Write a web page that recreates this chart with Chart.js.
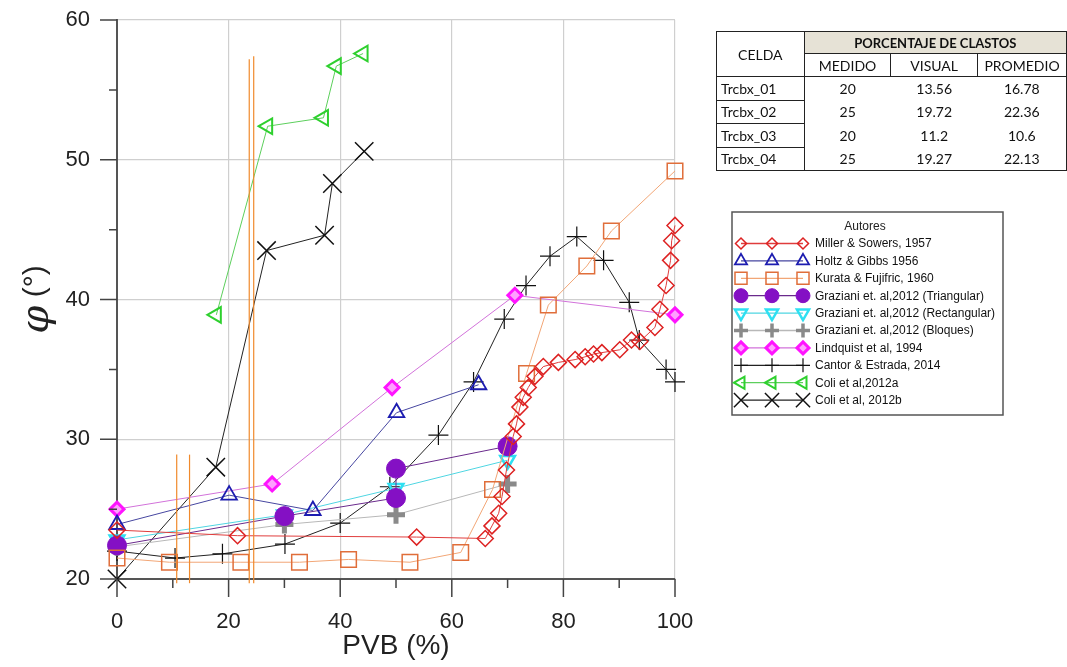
<!DOCTYPE html>
<html>
<head>
<meta charset="utf-8">
<script src="https://cdn.jsdelivr.net/npm/chart.js@4.4.1/dist/chart.umd.min.js"></script>
<style>
body { margin: 0; width: 1067px; height: 667px; overflow: hidden; background: #fff; position: relative; }
#graf { position: absolute; left: 0; top: 0; }
#tabla { position: absolute; left: 716px; top: 31px; border-collapse: collapse; table-layout: fixed;
  font-family: Lato, 'Open Sans', sans-serif; font-size: 14px; color: #111; border: 1px solid #222; }
#tabla td { padding: 0; text-align: center; white-space: nowrap; overflow: hidden; }
#tabla .celda { border: 1px solid #222; }
#tabla .hdr { background: #e6e2d6; font-weight: bold; font-size: 13px; border-bottom: 1px solid #222; }
#tabla .sub { border: 1px solid #222; }
#tabla .nom { border: 1px solid #222; text-align: left; padding-left: 4px; }
</style>
</head>
<body>
<canvas id="graf" width="1067" height="667"></canvas>
<table id="tabla">
  <colgroup><col style="width:90px"><col style="width:89px"><col style="width:90px"><col style="width:90px"></colgroup>
  <tr style="height:22px"><td rowspan="2" class="celda">CELDA</td><td colspan="3" class="hdr">PORCENTAJE DE CLASTOS</td></tr>
  <tr style="height:23px"><td class="sub">MEDIDO</td><td class="sub">VISUAL</td><td class="sub">PROMEDIO</td></tr>
</table>
<script>
// tabla de clastos
let celdas = ['Trcbx_01', 'Trcbx_02', 'Trcbx_03', 'Trcbx_04']
let medido = ['20', '25', '20', '25']
let visual = ['13.56', '19.72', '11.2', '19.27']
let promedio = ['16.78', '22.36', '10.6', '22.13']

// ejes
let xTickLabels = [0, 20, 40, 60, 80, 100]
let xMinorTicks = [10, 30, 50, 70, 90]
let yTickLabels = [20, 30, 40, 50, 60]
let yMinorTicks = [25, 35, 45, 55]

// series (PVB %, phi grados)
let millerX = [0, 21.6, 53.7, 66.0, 67.2, 68.4, 69.0, 69.8, 71.0, 71.6, 72.2, 72.8, 73.7, 74.9, 76.4, 79.1, 82.1, 83.9, 85.4, 86.9, 90.1, 92.2, 93.7, 96.4, 97.3, 98.4, 99.2, 99.4, 100]
let millerY = [23.5, 23.1, 23.0, 22.9, 23.8, 24.7, 25.9, 27.8, 30.2, 31.1, 32.3, 33.0, 33.7, 34.5, 35.2, 35.5, 35.7, 35.9, 36.1, 36.2, 36.4, 37.1, 37.0, 38.0, 39.3, 41.0, 42.8, 44.2, 45.3]
let holtzX = [0, 20.1, 35.1, 50.1, 64.8]
let holtzY = [23.9, 26.0, 24.9, 31.9, 33.9]
let kurataX = [0, 9.4, 22.2, 32.7, 41.5, 52.5, 61.6, 67.3, 73.4, 77.3, 84.2, 88.6, 100]
let kurataY = [21.5, 21.2, 21.2, 21.2, 21.4, 21.2, 21.9, 26.4, 34.7, 39.6, 42.4, 44.9, 49.2]
let triX = [0, 30, 50, 50, 70]
let triY = [22.4, 24.5, 25.8, 27.9, 29.5]
let rectX = [0, 30, 50, 70]
let rectY = [22.8, 24.6, 26.5, 28.5]
let bloqX = [0, 30, 50, 70]
let bloqY = [22.3, 23.9, 24.6, 26.8]
let lindX = [0, 27.8, 49.3, 71.3, 100]
let lindY = [25.0, 26.8, 33.7, 40.3, 38.9]
let cantorX = [0, 10.4, 18.9, 30.1, 40, 48.9, 57.6, 63.9, 69.4, 73.3, 77.6, 82.4, 87.2, 91.8, 93.6, 98.4, 100]
let cantorY = [22.0, 21.5, 21.8, 22.5, 24.0, 26.6, 30.3, 34.1, 38.6, 41.0, 43.1, 44.5, 42.8, 39.8, 37.1, 35.0, 34.1]
let coliaX = [17.8, 27.0, 37.0, 39.3, 44.1]
let coliaY = [38.9, 52.4, 53.0, 56.7, 57.6]
let colibX = [0, 17.7, 26.8, 37.2, 38.6, 44.3]
let colibY = [20.0, 28.0, 43.5, 44.6, 48.3, 50.6]

// lineas verticales naranjas
let vertX = [10.7, 13.0, 23.7, 24.5]
let vertTop = [28.9, 28.9, 57.2, 57.4]
let vertBase = 19.7

for (let i = 0; i < celdas.length; i++) {
    let tr = document.createElement('tr')
    tr.style.height = '23.5px'
    tr.innerHTML = `<td class="nom">${celdas[i]}</td><td>${medido[i]}</td><td>${visual[i]}</td><td>${promedio[i]}</td>`
    if (i === celdas.length - 1) tr.style.borderBottom = '1px solid #222'
    document.getElementById('tabla').appendChild(tr)
}

function pts(xs, ys) {
    let r = []
    for (let i = 0; i < xs.length; i++) r.push({ x: xs[i], y: ys[i] })
    return r
}

let series = [
    { label: 'Miller & Sowers, 1957', data: pts(millerX, millerY), borderColor: '#e03c3c', pointBorderColor: '#dd2222', pointBackgroundColor: 'rgba(0,0,0,0)', pointStyle: 'rectRot', pointRadius: 8, pointBorderWidth: 1.5, lr: 5.5 },
    { label: 'Holtz & Gibbs 1956', data: pts(holtzX, holtzY), borderColor: '#4646a0', pointBorderColor: '#1c1cb0', pointBackgroundColor: 'rgba(0,0,0,0)', pointStyle: 'triangle', pointRadius: 9, pointBorderWidth: 1.8, lr: 7 },
    { label: 'Kurata & Fujifric, 1960', data: pts(kurataX, kurataY), borderColor: '#f2a676', pointBorderColor: '#e06e3a', pointBackgroundColor: 'rgba(0,0,0,0)', pointStyle: 'rect', pointRadius: 11, pointBorderWidth: 1.5, lr: 8.5 },
    { label: 'Graziani et. al,2012 (Triangular)', data: pts(triX, triY), borderColor: '#6a2a8c', pointBorderColor: '#8410c4', pointBackgroundColor: '#8410c4', pointStyle: 'circle', pointRadius: 9.5, pointBorderWidth: 1, lr: 7 },
    { label: 'Graziani et. al,2012 (Rectangular)', data: pts(rectX, rectY), borderColor: '#4fd6e2', pointBorderColor: '#2ee0f2', pointBackgroundColor: 'rgba(0,0,0,0)', pointStyle: 'triangle', pointRotation: 180, pointRadius: 8.5, pointBorderWidth: 2.5, lr: 7 },
    { label: 'Graziani et. al,2012 (Bloques)', data: pts(bloqX, bloqY), borderColor: '#b8b8b8', pointBorderColor: '#8a8a8a', pointBackgroundColor: '#8a8a8a', pointStyle: 'cross', pointRadius: 9, pointBorderWidth: 5, lr: 7 },
    { label: 'Lindquist et al, 1994', data: pts(lindX, lindY), borderColor: '#d272da', pointBorderColor: '#ff14ff', pointBackgroundColor: '#ffa0ff', pointStyle: 'rectRot', pointRadius: 7, pointBorderWidth: 3, lr: 6 },
    { label: 'Cantor & Estrada, 2014', data: pts(cantorX, cantorY), borderColor: '#222', pointBorderColor: '#111', pointBackgroundColor: 'rgba(0,0,0,0)', pointStyle: 'cross', pointRadius: 10, pointBorderWidth: 1.2, lr: 7 },
    { label: 'Coli et al,2012a', data: pts(coliaX, coliaY), borderColor: '#5ccf5c', pointBorderColor: '#2ed02e', pointBackgroundColor: 'rgba(0,0,0,0)', pointStyle: 'triangle', pointRotation: -90, pointRadius: 9, pointBorderWidth: 2, lr: 7 },
    { label: 'Coli et al, 2012b', data: pts(colibX, colibY), borderColor: '#222', pointBorderColor: '#111', pointBackgroundColor: 'rgba(0,0,0,0)', pointStyle: 'crossRot', pointRadius: 13, pointBorderWidth: 1.5, lr: 10 }
]

let datasets = []
for (let i = 0; i < vertX.length; i++) {
    datasets.push({
        label: 'v' + i,
        data: [{ x: vertX[i], y: vertBase }, { x: vertX[i], y: vertTop[i] }],
        borderColor: '#f08a2c', borderWidth: 1.2, pointRadius: 0, showLine: true, clip: false
    })
}
for (let s of series) {
    datasets.push(Object.assign({ showLine: true, borderWidth: 1, clip: false, pointHoverRadius: s.pointRadius }, s))
}

// marcas de los ejes, titulo del eje y y leyenda
const extras = {
    id: 'extras',
    afterDraw(chart) {
        const { ctx, chartArea: a, scales: { x, y } } = chart
        ctx.save()
        ctx.strokeStyle = '#444'
        ctx.lineWidth = 1.5
        ctx.beginPath()
        xTickLabels.forEach(v => { let p = x.getPixelForValue(v); ctx.moveTo(p, a.bottom); ctx.lineTo(p, a.bottom + 18) })
        xMinorTicks.forEach(v => { let p = x.getPixelForValue(v); ctx.moveTo(p, a.bottom); ctx.lineTo(p, a.bottom + 9) })
        yTickLabels.forEach(v => { let p = y.getPixelForValue(v); ctx.moveTo(a.left, p); ctx.lineTo(a.left - 17, p) })
        yMinorTicks.forEach(v => { let p = y.getPixelForValue(v); ctx.moveTo(a.left, p); ctx.lineTo(a.left - 8, p) })
        ctx.stroke()

        // titulo eje y: phi (grados)
        ctx.save()
        ctx.translate(38, (a.top + a.bottom) / 2)
        ctx.rotate(-Math.PI / 2)
        ctx.fillStyle = '#222'
        ctx.textBaseline = 'middle'
        ctx.textAlign = 'left'
        ctx.font = 'italic 40px "DejaVu Serif", "Liberation Serif", serif'
        let w1 = ctx.measureText('φ').width
        ctx.font = '30px "Liberation Sans", Arial, sans-serif'
        let w2 = ctx.measureText(' (°)').width
        let x0 = -(w1 + w2) / 2
        ctx.font = 'italic 40px "DejaVu Serif", "Liberation Serif", serif'
        ctx.fillText('φ', x0, 0)
        ctx.font = '30px "Liberation Sans", Arial, sans-serif'
        ctx.fillText(' (°)', x0 + w1, -2)
        ctx.restore()

        // leyenda
        let bx = 732, by = 212, bw = 271, bh = 203
        ctx.strokeStyle = '#555'
        ctx.lineWidth = 1.5
        ctx.strokeRect(bx, by, bw, bh)
        ctx.fillStyle = '#222'
        ctx.font = '12px "Liberation Sans", Arial, sans-serif'
        ctx.textAlign = 'center'
        ctx.textBaseline = 'middle'
        ctx.fillText('Autores', 865, 227)
        ctx.textAlign = 'left'
        series.forEach((s, i) => {
            let yy = 243.5 + i * 17.4
            ctx.strokeStyle = s.borderColor
            ctx.lineWidth = 1.3
            ctx.beginPath(); ctx.moveTo(741, yy); ctx.lineTo(803, yy); ctx.stroke()
            ;[741, 772, 803].forEach(mx => {
                ctx.strokeStyle = s.pointBorderColor
                ctx.fillStyle = s.pointBackgroundColor
                ctx.lineWidth = Math.min(s.pointBorderWidth, 3.5)
                Chart.helpers.drawPoint(ctx, { pointStyle: s.pointStyle, rotation: s.pointRotation || 0, radius: s.lr, borderWidth: ctx.lineWidth }, mx, yy)
            })
            ctx.fillStyle = '#111'
            ctx.fillText(s.label, 815, yy + 0.5)
        })
        ctx.restore()
    }
}

let ctx = document.getElementById('graf').getContext('2d')

const config = {
    type: 'scatter',
    data: { datasets: datasets },
    options: {
        responsive: false,
        animation: false,
        layout: { padding: { top: 20, right: 392, left: 0, bottom: 0 } },
        plugins: { legend: { display: false }, tooltip: { enabled: false } },
        scales: {
            x: {
                type: 'linear', min: 0, max: 100,
                afterFit: s => { s.height = 88 },
                afterBuildTicks: s => { s.ticks = xTickLabels.map(v => ({ value: v })) },
                ticks: { color: '#222', font: { size: 22, family: '"Liberation Sans", Arial' }, padding: 30, maxRotation: 0 },
                grid: { color: '#cfcfcf', lineWidth: 1.2, drawTicks: false },
                border: { color: '#555', width: 2 },
                title: { display: true, text: 'PVB (%)', color: '#222', font: { size: 28, family: '"Liberation Sans", Arial' }, padding: { top: 0, bottom: 4 } }
            },
            y: {
                type: 'linear', min: 20, max: 60,
                afterFit: s => { s.width = 117; s.paddingTop = 0; s.paddingBottom = 0 },
                afterBuildTicks: s => { s.ticks = yTickLabels.map(v => ({ value: v })) },
                ticks: { color: '#222', font: { size: 22, family: '"Liberation Sans", Arial' }, padding: 27 },
                grid: { color: '#cfcfcf', lineWidth: 1.2, drawTicks: false },
                border: { color: '#555', width: 2 },
                title: { display: false }
            }
        }
    },
    plugins: [extras]
}

let meuGrafico = new Chart(ctx, config)
</script>
</body>
</html>
